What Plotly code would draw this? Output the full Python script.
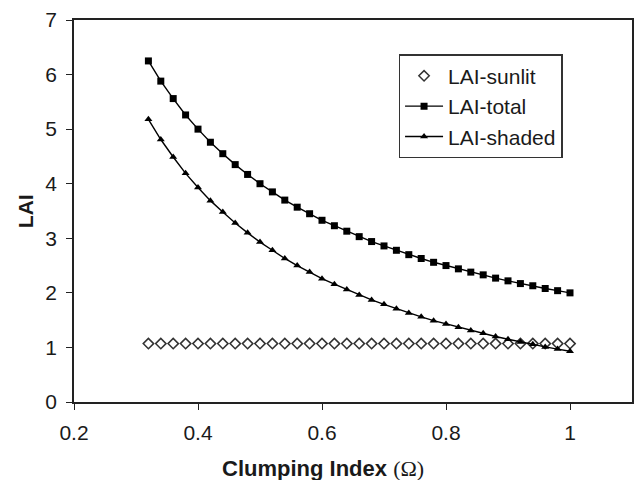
import plotly.graph_objects as go

clumping = [0.32, 0.34, 0.36, 0.38, 0.40, 0.42, 0.44, 0.46, 0.48, 0.50,
            0.52, 0.54, 0.56, 0.58, 0.60, 0.62, 0.64, 0.66, 0.68, 0.70,
            0.72, 0.74, 0.76, 0.78, 0.80, 0.82, 0.84, 0.86, 0.88, 0.90,
            0.92, 0.94, 0.96, 0.98, 1.00]

lai_sunlit = [1.07] * 35

lai_total = [6.25, 5.88, 5.56, 5.26, 5.00, 4.76, 4.55, 4.35, 4.17, 4.00,
             3.85, 3.70, 3.57, 3.45, 3.33, 3.23, 3.13, 3.03, 2.94, 2.86,
             2.78, 2.70, 2.63, 2.56, 2.50, 2.44, 2.38, 2.33, 2.27, 2.22,
             2.17, 2.13, 2.08, 2.04, 2.00]

lai_shaded = [5.18, 4.81, 4.49, 4.19, 3.93, 3.69, 3.48, 3.28, 3.10, 2.93,
              2.78, 2.63, 2.50, 2.38, 2.26, 2.16, 2.06, 1.96, 1.87, 1.79,
              1.71, 1.63, 1.56, 1.49, 1.43, 1.37, 1.31, 1.26, 1.20, 1.15,
              1.10, 1.06, 1.01, 0.97, 0.93]

x_ticks = [0.2, 0.4, 0.6, 0.8, 1.0]
x_tick_labels = ["0.2", "0.4", "0.6", "0.8", "1"]
y_ticks = [0, 1, 2, 3, 4, 5, 6, 7]

FONT = "Liberation Sans, Arial, sans-serif"
INK = "#1a1a1a"

fig = go.Figure()

fig.add_trace(go.Scatter(
    x=clumping, y=lai_sunlit, name="LAI-sunlit", mode="markers",
    marker=dict(symbol="diamond-open", size=8, color="#333333",
                line=dict(width=1.5, color="#333333")),
))
fig.add_trace(go.Scatter(
    x=clumping, y=lai_total, name="LAI-total", mode="lines+markers",
    line=dict(color="black", width=1.4),
    marker=dict(symbol="square", size=7, color="black"),
))
fig.add_trace(go.Scatter(
    x=clumping, y=lai_shaded, name="LAI-shaded", mode="lines+markers",
    line=dict(color="black", width=1.4),
    marker=dict(symbol="triangle-up", size=7, color="black"),
))

axis_common = dict(
    showline=True, linecolor="#222222", linewidth=1.5, mirror=True,
    ticks="outside", ticklen=6, tickcolor="#222222", tickwidth=1.3,
    showgrid=False, zeroline=False,
    tickfont=dict(family=FONT, size=21, color=INK),
)

fig.update_layout(
    width=635, height=480,
    margin=dict(l=74, r=1, t=20, b=78),
    paper_bgcolor="white", plot_bgcolor="white",
    font=dict(family=FONT, color=INK),
    xaxis=dict(range=[0.2, 1.1], tickvals=x_ticks, ticktext=x_tick_labels,
               ticklabelstandoff=5, **axis_common),
    yaxis=dict(range=[0, 7], tickvals=y_ticks, ticklabelstandoff=5,
               **axis_common),
    legend=dict(
        x=0.582, y=0.91, xanchor="left", yanchor="top",
        bordercolor="#333333", borderwidth=1.3, bgcolor="white",
        font=dict(family=FONT, size=21, color=INK),
        itemwidth=38, tracegroupgap=0,
    ),
    showlegend=True,
    annotations=[
        dict(text="<b>Clumping Index</b> <span style='font-family:Liberation Serif, serif'>(Ω)</span>",
             xref="paper", yref="paper", x=0.446, y=-0.173,
             xanchor="center", yanchor="middle", showarrow=False,
             font=dict(family=FONT, size=22, color=INK)),
        dict(text="<b>LAI</b>", xref="paper", yref="paper",
             x=-0.0875, y=0.5, textangle=-90,
             xanchor="center", yanchor="middle", showarrow=False,
             font=dict(family=FONT, size=21, color=INK)),
    ],
)

fig.write_html("out.html")
